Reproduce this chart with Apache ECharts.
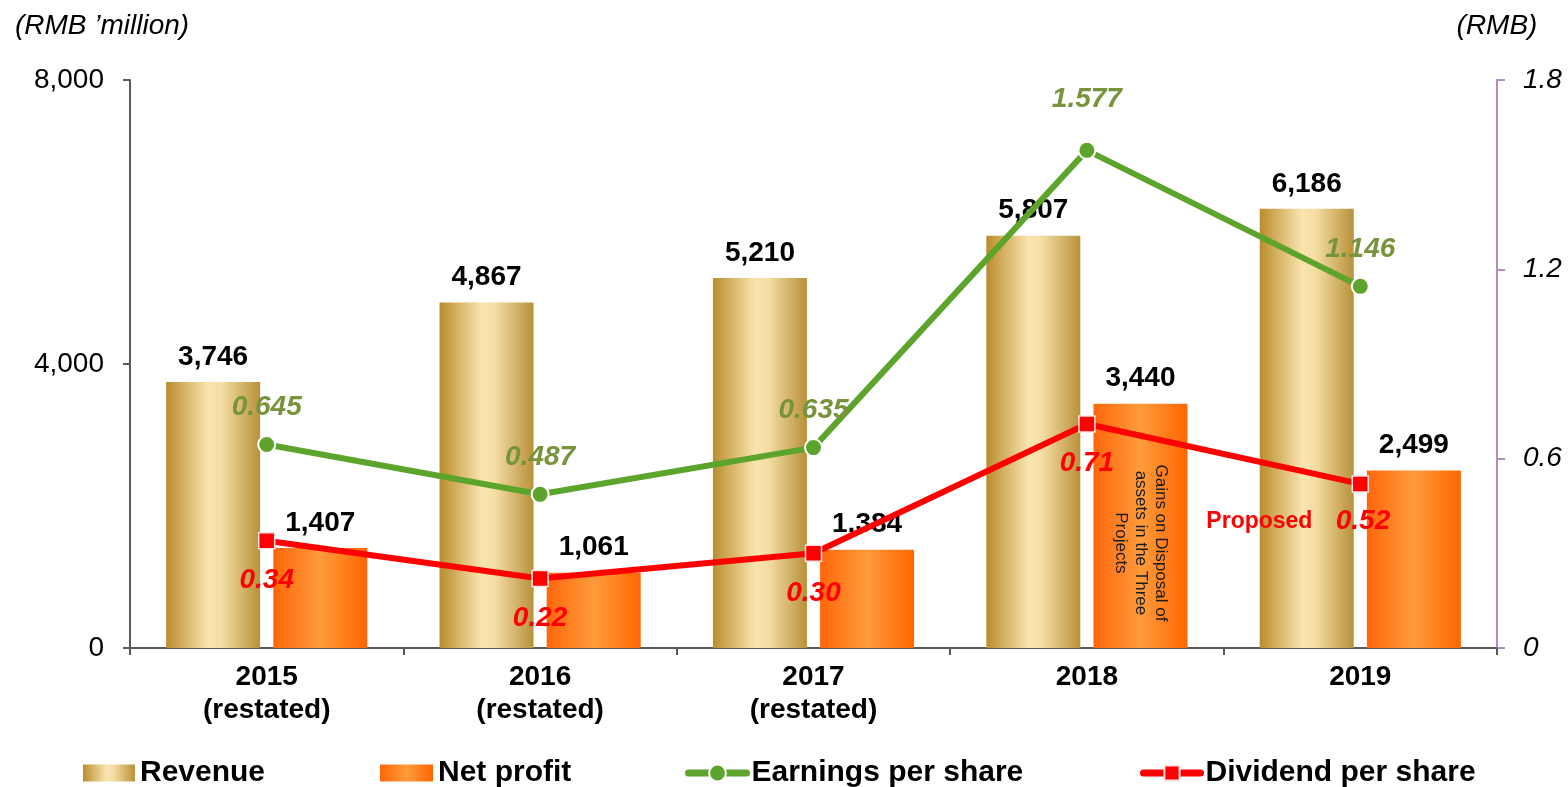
<!DOCTYPE html>
<html>
<head>
<meta charset="utf-8">
<script src="https://cdn.jsdelivr.net/npm/echarts@6/dist/echarts.min.js"></script>
<style>
html,body{margin:0;padding:0;background:#fff;}
#chart{width:1568px;height:787px;}
</style>
</head>
<body>
<div id="chart"></div>
<script>
var years = ['2015\n(restated)', '2016\n(restated)', '2017\n(restated)', '2018', '2019'];
var revenue = [3746, 4867, 5210, 5807, 6186];
var netProfit = [1407, 1061, 1384, 3440, 2499];
var eps = [0.645, 0.487, 0.635, 1.577, 1.146];
var dps = [0.34, 0.22, 0.30, 0.71, 0.52];
var leftTicks = [0, 4000, 8000];
var rightTicks = [0, 0.6, 1.2, 1.8];

var FONT = 'Liberation Sans, Arial, sans-serif';

function fmt(v) {
	return Number(v).toLocaleString('en-US');
}

var myChart = echarts.init(document.getElementById('chart'));

// eps: the 2018 peak label sits a bit higher
var epsData = eps.map(function(v, i) {
	if (i == 3) {
		return {value: v, label: {distance: 28}};
	}
	return v;
});

// dividend labels, last one marked as proposed
var dpsData = dps.map(function(v, i) {
	if (i == dps.length - 1) {
		return {
			value: v,
			label: {
				formatter: '{p|Proposed}   {v|' + v.toFixed(2) + '}',
				offset: [-62, -2]
			}
		};
	}
	return v;
});

function legendOf(name, left, w, h, icon) {
	var lg = {
		data: [name],
		left: left,
		top: 753,
		itemWidth: w,
		itemHeight: h,
		itemGap: 6,
		lineStyle: {width: 7, cap: 'round'},
		textStyle: {fontFamily: FONT, fontSize: 30, fontWeight: 'bold', color: '#000', lineHeight: 30}
	};
	if (icon) lg.icon = icon;
	return lg;
}

var option = {
	animation: false,
	textStyle: {fontFamily: FONT},
	grid: {left: 130, right: 71, top: 80, bottom: 139},
	legend: [
		legendOf('Revenue', 78, 52, 17, 'rect'),
		legendOf('Net profit', 375, 53, 17, 'rect'),
		legendOf('Earnings per share', 680, 58, 21),
		legendOf('Dividend per share', 1135, 57, 19)
	],
	xAxis: {
		type: 'category',
		data: years,
		axisLine: {lineStyle: {color: '#595959', width: 2}},
		axisTick: {show: true, length: 7, lineStyle: {color: '#595959', width: 2}},
		axisLabel: {fontFamily: FONT, fontSize: 28, fontWeight: 'bold', color: '#000', lineHeight: 33, margin: 13}
	},
	yAxis: [
		{
			type: 'value',
			min: leftTicks[0],
			max: leftTicks[leftTicks.length - 1],
			interval: leftTicks[1] - leftTicks[0],
			name: "(RMB \u2019million)",
			nameLocation: 'end',
			nameGap: 40,
			nameTextStyle: {fontFamily: FONT, fontSize: 28, fontStyle: 'italic', color: '#000', align: 'center', padding: [0, 56, 0, 0]},
			axisLine: {show: true, lineStyle: {color: '#595959', width: 2}},
			axisTick: {show: true, length: 7, lineStyle: {color: '#595959', width: 2}},
			splitLine: {show: false},
			axisLabel: {fontFamily: FONT, fontSize: 28, color: '#000', margin: 26, formatter: fmt}
		},
		{
			type: 'value',
			min: rightTicks[0],
			max: rightTicks[rightTicks.length - 1],
			interval: rightTicks[1] - rightTicks[0],
			name: '(RMB)',
			nameLocation: 'end',
			nameGap: 40,
			nameTextStyle: {fontFamily: FONT, fontSize: 28, fontStyle: 'italic', color: '#000', align: 'center'},
			axisLine: {show: true, lineStyle: {color: '#B08BC4', width: 2}},
			axisTick: {show: true, length: 8, lineStyle: {color: '#B08BC4', width: 2}},
			splitLine: {show: false},
			axisLabel: {fontFamily: FONT, fontSize: 28, fontStyle: 'italic', color: '#000', margin: 26,
				formatter: function(v) { return v == 0 ? '0' : v.toFixed(1); }}
		}
	],
	series: [
		{
			name: 'Revenue',
			type: 'bar',
			data: revenue,
			barWidth: 94,
			barGap: '14%',
			itemStyle: {
				color: new echarts.graphic.LinearGradient(0, 0, 1, 0, [
					{offset: 0, color: '#BA8D2C'},
					{offset: 0.45, color: '#FAE4AF'},
					{offset: 0.58, color: '#F6DFA6'},
					{offset: 1, color: '#B8913A'}
				])
			},
			label: {show: true, position: 'top', distance: 11, fontFamily: FONT, fontSize: 28, fontWeight: 'bold', color: '#000', formatter: function(p) { return fmt(p.value); }}
		},
		{
			name: 'Net profit',
			type: 'bar',
			data: netProfit,
			barWidth: 94,
			itemStyle: {
				color: new echarts.graphic.LinearGradient(0, 0, 1, 0, [
					{offset: 0, color: '#FF660A'},
					{offset: 0.5, color: '#FE9B3B'},
					{offset: 1, color: '#FF6600'}
				])
			},
			label: {show: true, position: 'top', distance: 11, fontFamily: FONT, fontSize: 28, fontWeight: 'bold', color: '#000', formatter: function(p) { return fmt(p.value); }},
			markPoint: {
				symbol: 'circle',
				symbolSize: 0,
				silent: true,
				data: [{coord: [3, 1480]}],
				label: {
					show: true,
					position: 'inside',
					rotate: -90,
					formatter: 'Gains on Disposal of\nassets in the Three\nProjects',
					fontFamily: FONT,
					fontSize: 17,
					lineHeight: 20,
					color: '#1a1a1a',
					align: 'center'
				}
			}
		},
		{
			name: 'Earnings per share',
			type: 'line',
			yAxisIndex: 1,
			data: epsData,
			symbol: 'circle',
			symbolSize: 17,
			lineStyle: {color: '#5CA42B', width: 6},
			itemStyle: {color: '#5CA42B', borderColor: '#fff', borderWidth: 2},
			label: {show: true, position: 'top', distance: 14, fontFamily: FONT, fontSize: 28, fontWeight: 'bold', fontStyle: 'italic', color: '#77933C', formatter: function(p) { return p.value.toFixed(3); }}
		},
		{
			name: 'Dividend per share',
			type: 'line',
			yAxisIndex: 1,
			data: dpsData,
			symbol: 'rect',
			symbolSize: 16,
			lineStyle: {color: '#FF0000', width: 6},
			itemStyle: {color: '#FF0000', borderColor: '#fbe4e4', borderWidth: 1.5},
			label: {
				show: true, position: 'bottom', distance: 17, fontFamily: FONT, fontSize: 28, fontWeight: 'bold', fontStyle: 'italic', color: '#FF0000',
				formatter: function(p) { return Number(p.value).toFixed(2); },
				rich: {
					p: {fontFamily: FONT, fontSize: 23, fontWeight: 'bold', fontStyle: 'normal', color: '#FF0000'},
					v: {fontFamily: FONT, fontSize: 28, fontWeight: 'bold', fontStyle: 'italic', color: '#FF0000'}
				}
			}
		}
	]
};
myChart.setOption(option);
window.addEventListener("resize", function () {
	myChart.resize();
});
</script>
</body>
</html>
